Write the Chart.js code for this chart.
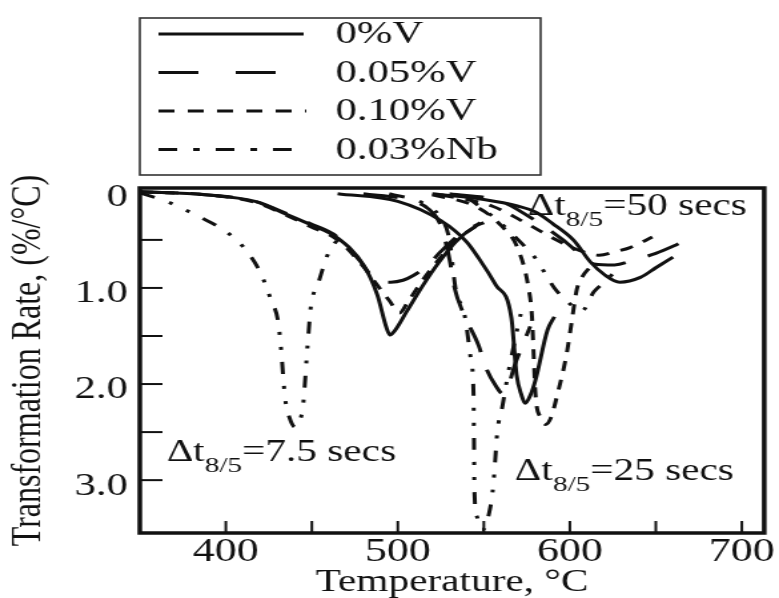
<!DOCTYPE html>
<html>
<head>
<meta charset="utf-8">
<script src="https://cdn.jsdelivr.net/npm/chart.js@4"></script>
<style>
  html, body { margin: 0; padding: 0; background: #fff; overflow: hidden; }
  /* the scanned figure is stretched sideways, so draw narrow and stretch */
  #wrap { width: 585px; height: 598px; transform: scaleX(1.33162); transform-origin: 0 0; }
</style>
</head>
<body>
<div id="wrap"><canvas id="chart"></canvas></div>
<script>
const seriesNames = ['0%V', '0.05%V', '0.10%V', '0.03%Nb'];
const coolingTimes = ['7.5', '25', '50'];

// [temperature °C, transformation rate %/°C]
const v0_75 = [[350,0],[388,0.03],[417,0.1],[436,0.24],[449,0.34],[465,0.48],[480,0.76],[488,1.07],[493.5,1.42],[495.5,1.49],[498,1.45],[505,1.25],[514.7,0.97],[524,0.73],[533.7,0.52],[545,0.36],[550,0.32]];
const v05_75 = [[350,0],[388,0.03],[417,0.1],[436,0.23],[449,0.33],[465,0.47],[478,0.72],[485,0.88],[490,0.93],[496,0.94],[503,0.92],[509,0.87],[517,0.77],[525,0.62],[534,0.47],[548,0.32]];
const v10_75 = [[350,0],[388,0.03],[417,0.11],[436,0.25],[449,0.36],[465,0.5],[480,0.78],[488,0.97],[495,1.13],[501,1.26],[506,1.14],[514,0.93],[524,0.7],[534,0.5],[548,0.33]];
const nb_75 = [[350,0.01],[365.6,0.1],[384.5,0.26],[400.6,0.42],[410.9,0.59],[420.1,0.84],[426.4,1.13],[430.4,1.35],[432.1,1.63],[433.3,1.91],[434.4,2.14],[437,2.35],[440.5,2.45],[443,2.38],[444.8,2.24],[445.9,2.01],[447,1.72],[448.2,1.44],[449.3,1.21],[453.9,0.94],[459.1,0.66],[466,0.47]];

const v0_25 = [[465,0.02],[500,0.1],[525,0.3],[540,0.52],[547,0.69],[557,0.97],[566,1.31],[569,1.9],[572,2.12],[574,2.2],[577,2.12],[580,1.96],[587,1.44],[591,1.3]];
const v05_25 = [[480,0.02],[505,0.08],[518,0.18],[525,0.35],[530,0.7],[533,1.0],[538,1.26],[547,1.6],[551,1.82],[557,2.02],[561,2.1],[564,2.03],[568,1.8],[572,1.62],[577,1.4]];
const v10_25 = [[520,0.03],[545,0.15],[560,0.35],[570,0.6],[576,1.0],[578,1.3],[579,1.7],[580,2.1],[583,2.35],[586,2.42],[589,2.35],[593,2.09],[598,1.7],[601,1.36],[604,1.02],[607,0.89],[612,0.78]];
const nb_25 = [[495,0.02],[515,0.12],[524,0.25],[530,0.5],[533.5,1.0],[539,1.3],[542.5,1.75],[544,2.1],[544.3,2.6],[544.5,3.1],[546,3.38],[549,3.52],[553.8,3.28],[555.5,3.05],[556.6,2.79],[557.8,2.5],[560.6,2.25],[564,1.9],[568,1.55],[573,1.15]];

const v0_50 = [[520,0.02],[550,0.08],[570,0.15],[580,0.21],[590,0.33],[602,0.5],[612,0.73],[620,0.86],[629,0.94],[641,0.89],[650,0.79],[660,0.68]];
const v05_50 = [[530,0.02],[560,0.1],[580,0.3],[596,0.5],[606,0.65],[614,0.75],[626,0.76],[637,0.71],[650,0.64],[662,0.55],[674,0.45]];
const v10_50 = [[525,0.03],[555,0.15],[575,0.33],[590,0.48],[604,0.6],[617,0.66],[627,0.62],[635,0.58],[648,0.47]];
const nb_50 = [[540,0.05],[559.5,0.32],[570,0.5],[580,0.69],[591,1.0],[601,1.18],[607,1.24],[614,1.04],[620,0.94],[628,0.8]];

const xTicks = [400, 500, 600, 700];
const yTicks = [0, 1.0, 2.0, 3.0];

const curves = [
  [v0_75, v05_75, v10_75, nb_75],
  [v0_25, v05_25, v10_25, nb_25],
  [v0_50, v05_50, v10_50, nb_50],
];

const serif = '"Liberation Serif", "Times New Roman", serif';
const ink = '#111';
const dashes = [[], [26, 18], [10, 9], [12, 12, 3, 12, 3, 12]];

const datasets = [];
curves.forEach((group, ti) => {
  group.forEach((pts, si) => {
    datasets.push({
      label: seriesNames[si] + ' (' + coolingTimes[ti] + ' s)',
      data: pts,
      borderColor: ink,
      borderWidth: 3,
      borderDash: dashes[si],
      pointRadius: 0,
      fill: false,
      cubicInterpolationMode: 'monotone',
    });
  });
});

// legend box in the upper left, outside the plot
const legendBox = {
  id: 'legendBox',
  afterDraw(chart) {
    const ctx = chart.ctx;
    const ends = [228, 207, 230, 221];
    const legendDash = [[], [30, 28], [12, 10], [14, 12, 5, 12]];
    ctx.save();
    ctx.strokeStyle = '#333';
    ctx.lineWidth = 1.6;
    ctx.strokeRect(105, 18, 301, 157);
    ctx.strokeStyle = ink;
    ctx.fillStyle = ink;
    ctx.font = '32px ' + serif;
    ctx.textBaseline = 'middle';
    seriesNames.forEach((name, i) => {
      const yy = 34 + i * 38.5;
      ctx.lineWidth = 3.2;
      ctx.setLineDash(legendDash[i]);
      ctx.beginPath();
      ctx.moveTo(119, yy);
      ctx.lineTo(ends[i], yy);
      ctx.stroke();
      ctx.setLineDash([]);
      ctx.fillText(name, 252, yy + 1);
    });
    ctx.restore();
  }
};

// frame, inward ticks and the cooling-time notes
const frame = {
  id: 'frame',
  afterDraw(chart) {
    const {ctx, chartArea: a, scales: {x, y}} = chart;
    ctx.save();
    ctx.strokeStyle = ink;
    ctx.lineWidth = 2;
    x.ticks.forEach(t => {
      if (t.value <= x.min || t.value >= x.max) return;
      const px = x.getPixelForValue(t.value);
      ctx.beginPath(); ctx.moveTo(px, a.bottom); ctx.lineTo(px, a.bottom - 12); ctx.stroke();
    });
    y.ticks.forEach(t => {
      if (t.value <= 0 || t.value >= 3.5) return;
      const py = y.getPixelForValue(t.value);
      ctx.beginPath(); ctx.moveTo(a.left, py); ctx.lineTo(a.left + 17, py); ctx.stroke();
    });
    ctx.lineWidth = 3.5;
    ctx.strokeRect(a.left, a.top, a.right - a.left, a.bottom - a.top);

    const anchors = [[365.6, 2.8], [568, 3.0], [575.5, 0.24]];
    ctx.fillStyle = ink;
    ctx.textBaseline = 'alphabetic';
    coolingTimes.forEach((ct, i) => {
      let px = x.getPixelForValue(anchors[i][0]);
      const py = y.getPixelForValue(anchors[i][1]);
      ctx.font = '31px ' + serif;
      ctx.fillText('\u0394t', px, py);
      px += ctx.measureText('\u0394t').width;
      ctx.font = '22px ' + serif;
      ctx.fillText('8/5', px, py + 11);
      px += ctx.measureText('8/5').width;
      ctx.font = '31px ' + serif;
      ctx.fillText('=' + ct + ' secs', px, py);
    });
    ctx.restore();
  }
};

new Chart(document.getElementById('chart'), {
  type: 'line',
  data: { datasets },
  options: {
    responsive: true,
    maintainAspectRatio: false,
    animation: false,
    events: [],
    layout: { padding: { top: 188, right: 4.5, left: 0, bottom: 0 } },
    plugins: { legend: { display: false }, tooltip: { enabled: false } },
    scales: {
      x: {
        type: 'linear', min: 350, max: 713,
        grid: { display: false, drawTicks: false },
        border: { display: false },
        afterBuildTicks: s => {
          s.ticks = [400, 450, 500, 550, 600, 650, 700].map(value => ({ value }));
        },
        ticks: {
          autoSkip: false, maxRotation: 0, padding: 3, color: ink,
          font: { family: serif, size: 33, lineHeight: 1 },
          callback: v => xTicks.includes(v) ? String(v) : ''
        },
        title: {
          display: true, text: 'Temperature, \u00B0C', color: ink, padding: 0,
          font: { family: serif, size: 31, lineHeight: 1 }
        },
        afterFit: s => { s.height = 65; }
      },
      y: {
        type: 'linear', reverse: true, min: -0.04, max: 3.55,
        grid: { display: false, drawTicks: false },
        border: { display: false },
        afterBuildTicks: s => {
          s.ticks = [0, 0.5, 1, 1.5, 2, 2.5, 3, 3.5].map(value => ({ value }));
        },
        ticks: {
          autoSkip: false, padding: 9, labelOffset: 6, color: ink,
          font: { family: serif, size: 32, lineHeight: 1 },
          callback: v => yTicks.includes(v) ? (v === 0 ? '0' : v.toFixed(1)) : ''
        },
        title: {
          display: true, text: 'Transformation Rate, (%/\u00B0C)', color: ink,
          padding: { top: 6, bottom: 0 },
          font: { family: serif, size: 32, lineHeight: 1 }
        },
        afterFit: s => { s.width = 105; }
      }
    }
  },
  plugins: [legendBox, frame]
});
</script>
</body>
</html>
